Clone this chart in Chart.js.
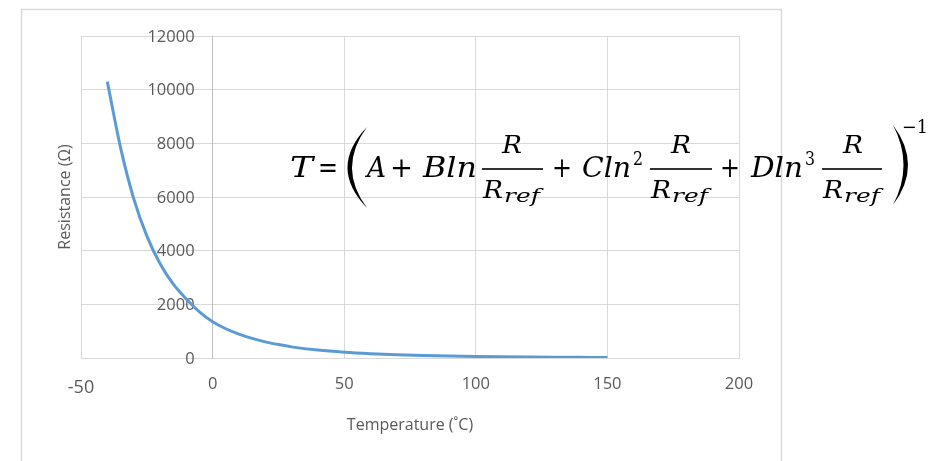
<!DOCTYPE html>
<html>
<head>
<meta charset="utf-8">
<script src="https://cdn.jsdelivr.net/npm/chart.js@4.4.1/dist/chart.umd.min.js"></script>
<style>
  html, body { margin: 0; padding: 0; background: #fff; }
  #wrap { width: 945px; height: 461px; position: relative; }
</style>
</head>
<body>
<div id="wrap"><canvas id="chart" width="945" height="461"></canvas></div>
<script>
// temperature (°C) and resistance (Ω)
const temps = [-40, -35, -30, -25, -20, -15, -10, -5, 0, 5, 10, 15, 20, 25, 30, 40, 50, 60, 70, 80, 90, 100, 110, 120, 130, 140, 150];
const resist = [10300, 7850, 5950, 4550, 3520, 2760, 2200, 1720, 1350, 1090, 890, 730, 600, 500, 415, 295, 215, 160, 120, 92, 72, 56, 45, 36, 29, 24, 20];

const xTicks = [-50, 0, 50, 100, 150, 200];
const yTicks = [0, 2000, 4000, 6000, 8000, 10000, 12000];

const xTitle = "Temperature (˚C)";
const yTitle = "Resistance (Ω)";

const labelColor = "#595959";
const gridColor = "#D9D9D9";
const fontFam = "'Open Sans', sans-serif";

// equation pieces: text, left, right, baseline, size, italic
const eqTokens = [
  ["T", 290, 313, 177, 27, true],
  ["=", 318, 338, 177, 27, false],
  ["A", 367, 386, 177, 27, true],
  ["+", 390, 413, 177, 27, false],
  ["Bln", 423, 477, 177, 27, true],
  ["R", 502, 522, 153, 25, true],
  ["R", 483, 503, 198, 25, true],
  ["ref", 504, 540, 202, 19, true],
  ["+", 552, 572, 177, 27, false],
  ["Cln", 582, 631, 177, 27, true],
  ["2", 633, 643, 165, 18, false],
  ["R", 671, 691, 153, 25, true],
  ["R", 651, 671, 198, 25, true],
  ["ref", 672, 708, 202, 19, true],
  ["+", 720, 740, 177, 27, false],
  ["Dln", 751, 803, 177, 27, true],
  ["3", 805, 815, 165, 18, false],
  ["R", 843, 863, 153, 25, true],
  ["R", 823, 843, 198, 25, true],
  ["ref", 844, 880, 202, 19, true],
  ["\u22121", 902, 928, 133, 18, false],
];
const eqBars = [[482, 543], [650, 712], [822, 882]];

const drawExtras = {
  id: "drawExtras",
  beforeDraw(chart) {
    const ctx = chart.ctx;
    ctx.save();
    ctx.fillStyle = "#fff";
    ctx.fillRect(0, 0, chart.width, chart.height);
    ctx.strokeStyle = gridColor;
    ctx.lineWidth = 1.5;
    ctx.strokeRect(21.5, 9.5, 760, 470);
    ctx.restore();
  },
  beforeDatasetsDraw(chart) {
    // y tick labels sit left of the x = 0 axis, under the curve
    const ctx = chart.ctx;
    const xs = chart.scales.x;
    const ys = chart.scales.y;
    ctx.save();
    ctx.fillStyle = labelColor;
    ctx.font = "16.5px " + fontFam;
    ctx.textAlign = "right";
    ctx.textBaseline = "middle";
    const ax = xs.getPixelForValue(0) - 18;
    yTicks.forEach((v) => ctx.fillText(String(v), ax, ys.getPixelForValue(v) + 1));
    ctx.restore();
  },
  afterDraw(chart) {
    const ctx = chart.ctx;
    const xs = chart.scales.x;
    const area = chart.chartArea;
    ctx.save();
    ctx.fillStyle = labelColor;

    // first x label sits lower and larger
    ctx.font = "18px " + fontFam;
    ctx.textAlign = "center";
    ctx.textBaseline = "middle";
    ctx.fillText(String(xTicks[0]), xs.getPixelForValue(xTicks[0]), 388);

    // y title
    ctx.font = "16px " + fontFam;
    ctx.translate(65, (area.top + area.bottom) / 2);
    ctx.rotate(-Math.PI / 2);
    ctx.fillText(yTitle, 0, 0);
    ctx.restore();

    // equation
    ctx.save();
    ctx.fillStyle = "#000";
    ctx.textAlign = "left";
    ctx.textBaseline = "alphabetic";
    eqTokens.forEach(([t, x0, x1, base, size, it]) => {
      ctx.font = (it ? "italic " : "") + size + "px 'DejaVu Serif', serif";
      const w = ctx.measureText(t).width;
      ctx.save();
      ctx.translate(x0, base);
      ctx.scale((x1 - x0) / w, 1);
      ctx.fillText(t, 0, 0);
      ctx.restore();
    });
    eqBars.forEach(([a, b]) => ctx.fillRect(a, 168.2, b - a, 1.6));

    // big parentheses
    ctx.beginPath();
    ctx.moveTo(367, 127);
    ctx.quadraticCurveTo(328, 167.5, 367, 208);
    ctx.quadraticCurveTo(337, 167.5, 367, 127);
    ctx.fill();
    ctx.beginPath();
    ctx.moveTo(893, 125);
    ctx.quadraticCurveTo(923, 165, 893, 205);
    ctx.quadraticCurveTo(914, 165, 893, 125);
    ctx.fill();
    ctx.restore();
  }
};

const makeChart = () => {
  const ctx = document.getElementById("chart");
  const data = {
    datasets: [
      {
        label: "Resistance",
        data: temps.map((t, i) => ({ x: t, y: resist[i] })),
        borderColor: "#5B9BD5",
        backgroundColor: "#5B9BD5",
        borderWidth: 3,
        pointRadius: 0,
        showLine: true,
        cubicInterpolationMode: "monotone",
      },
    ],
  };
  const config = {
    type: "scatter",
    data,
    options: {
      responsive: false,
      animation: false,
      devicePixelRatio: 1,
      layout: { padding: { left: 81, top: 36, right: 206, bottom: 0 } },
      plugins: { legend: { display: false }, tooltip: { enabled: false } },
      scales: {
        x: {
          type: "linear",
          position: "bottom",
          min: -50,
          max: 200,
          afterBuildTicks: (s) => { s.ticks = xTicks.map((v) => ({ value: v })); },
          afterFit: (s) => { s.height = 103; },
          grid: { color: gridColor, drawTicks: false },
          border: { color: gridColor },
          ticks: {
            padding: 16,
            color: labelColor,
            font: { family: fontFam, size: 16.5 },
            maxRotation: 0,
            autoSkip: false,
            callback: (v) => (v === xTicks[0] ? "" : String(v)),
          },
          title: {
            display: true,
            text: xTitle,
            color: labelColor,
            font: { family: fontFam, size: 16 },
            padding: { top: 0, bottom: 26 },
          },
        },
        y: {
          type: "linear",
          position: { x: 0 },
          min: 0,
          max: 12000,
          afterBuildTicks: (s) => { s.ticks = yTicks.map((v) => ({ value: v })); },
          grid: { color: gridColor, drawTicks: false },
          border: { color: "#BFBFBF" },
          ticks: { display: false },
        },
      },
    },
    plugins: [drawExtras],
  };
  return new Chart(ctx, config);
};

makeChart();
</script>
</body>
</html>
